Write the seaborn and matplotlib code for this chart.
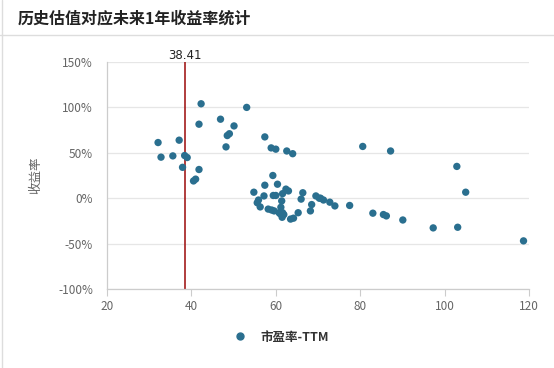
import matplotlib
matplotlib.use("Agg")
import matplotlib.pyplot as plt
import seaborn as sns
import pandas as pd
from matplotlib.lines import Line2D

title = "历史估值对应未来1年收益率统计"
series_name = "市盈率-TTM"
y_label = "收益率"
marker_value = 38.41

pe = [32.1, 32.8, 35.6, 37.1, 38.4, 39.0, 37.9, 41.8, 40.5, 41.0, 42.3, 41.8,
      46.9, 53.1, 50.1, 48.5, 49.0, 48.2, 57.4, 58.9, 60.0, 62.6, 64.0,
      80.6, 87.2, 102.9, 105.0, 77.5, 83.0, 85.5, 86.2, 90.1, 97.3, 103.1, 118.7,
      59.3, 57.4, 60.4, 54.8, 57.2, 59.4, 60.0, 61.6, 62.4, 63.0, 66.4, 66.0,
      55.9, 55.6, 56.3, 58.2, 59.0, 59.6, 61.4, 61.2, 60.8, 61.6, 61.5, 61.9,
      63.5, 64.2, 65.3, 68.2, 68.5, 69.5, 70.6, 71.3, 72.8, 74.0, 61.0, 70.3]
ret = [61.3, 45.2, 46.6, 63.9, 47.0, 44.8, 34.0, 31.6, 19.0, 21.0, 104.0, 81.5,
       87.0, 100.0, 79.6, 69.0, 71.0, 56.5, 67.5, 55.4, 54.0, 52.0, 49.0,
       57.0, 52.0, 35.0, 6.6, -8.0, -16.5, -18.0, -19.5, -24.0, -32.7, -32.0, -47.0,
       25.0, 14.3, 15.4, 6.6, 2.5, 3.0, 3.0, 5.0, 10.0, 8.0, 6.0, -1.0,
       -2.0, -5.0, -9.6, -12.0, -13.0, -14.0, -3.0, -10.0, -16.0, -16.0, -21.0, -18.0,
       -23.0, -22.0, -16.0, -14.0, -7.0, 2.5, 0.0, -2.0, -4.4, -8.5, -17.0, 0.0]

x_ticks = [20, 40, 60, 80, 100, 120]
y_ticks = [-100, -50, 0, 50, 100, 150]
y_tick_labels = ["-100%", "-50%", "0%", "50%", "100%", "150%"]

sns.set_theme(style="white")
plt.rcParams['font.family'] = ['Noto Sans CJK SC', 'DejaVu Sans']

df = pd.DataFrame({"pe": pe, "ret": ret})

fig = plt.figure(figsize=(5.54, 3.68), dpi=100)
ax = fig.add_axes([107/554, 79/368, 422/554, 227/368])

color = "#2a6f8f"
sns.scatterplot(data=df, x="pe", y="ret", ax=ax, color=color, s=28,
                edgecolor="none", linewidth=0, legend=False, zorder=3)

ax.axvline(marker_value, color="#a31c1c", lw=1.2, zorder=2)
ax.annotate(f"{marker_value:.2f}", xy=(marker_value, 150), xytext=(0, 0),
            textcoords="offset points", ha="center", va="bottom",
            fontsize=8.5, color="#222222", family=['DejaVu Sans'])

ax.set_xlim(20, 120)
ax.set_ylim(-100, 150)
ax.set_xticks(x_ticks)
ax.set_xticklabels([str(v) for v in x_ticks])
ax.set_yticks(y_ticks)
ax.set_yticklabels(y_tick_labels)
ax.grid(axis="y", color="#e6e6e6", lw=0.9)
ax.set_axisbelow(True)

for s in ["top", "right"]:
    ax.spines[s].set_visible(False)
for s in ["left", "bottom"]:
    ax.spines[s].set_color("#cccccc")
    ax.spines[s].set_linewidth(0.9)

ax.tick_params(axis="x", length=5, width=0.8, color="#cccccc", labelsize=8.5,
               labelcolor="#666666", pad=3, direction="out", bottom=True)
ax.tick_params(axis="y", length=0, labelsize=8.5, labelcolor="#666666", pad=10)

ax.set_xlabel("")
ax.set_ylabel(y_label, fontsize=9, color="#666666")
ax.yaxis.set_label_coords(-0.154, 0.5)

fig.text(18/554, 1 - 18/368, title, ha="left", va="center", fontsize=11.5,
         fontweight="bold", color="#222222")
fig.add_artist(Line2D([0, 1], [1 - 35/368, 1 - 35/368], color="#dddddd", lw=1))
fig.add_artist(Line2D([2/554, 2/554], [0, 1], color="#dddddd", lw=1))

handle = Line2D([], [], marker="o", ls="none", color=color, markersize=5)
fig.legend([handle], [series_name], loc="center", bbox_to_anchor=(278/554, 1 - 337/368),
           frameon=False, prop={"weight": "bold", "size": 9}, handletextpad=0.6,
           labelcolor="#333333")

fig.savefig("out.png", dpi=100)
